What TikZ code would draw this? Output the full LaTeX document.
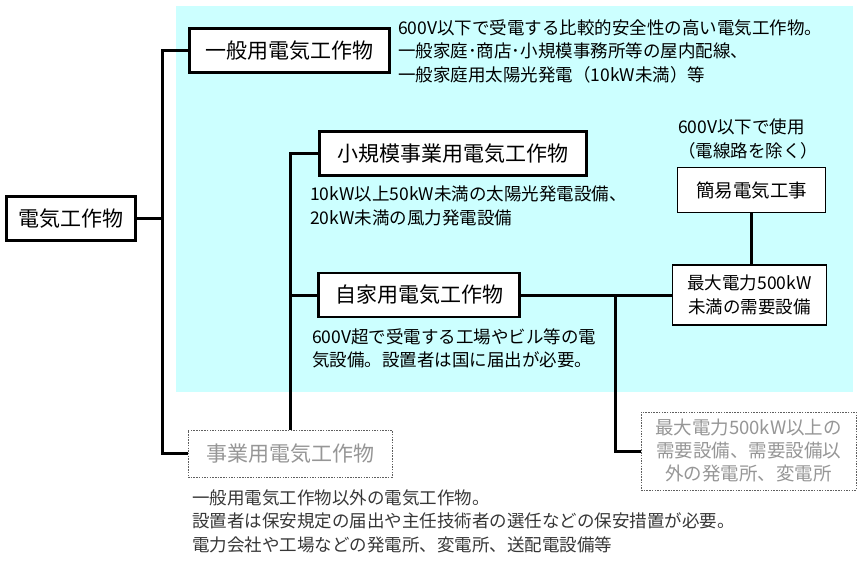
\documentclass[tikz,border=0pt]{standalone}
\usepackage{fontspec}
\setmainfont{Noto Sans CJK JP}
\definecolor{bgcyan}{RGB}{204,255,255}
\definecolor{graytxt}{RGB}{150,150,150}
\definecolor{dashgray}{RGB}{95,95,95}
\definecolor{desctxt}{RGB}{55,55,55}
\begin{document}
\begin{tikzpicture}[x=1pt,y=-1pt,
  mainbox/.style={draw=black, line width=2.8pt, fill=white, minimum height=44pt, inner sep=0pt, font=\fontsize{21}{25}\selectfont},
  thinbox/.style={draw=black, line width=1.3pt, fill=white, inner sep=0pt, align=center, font=\fontsize{17.5}{23.5}\selectfont},
  graybox/.style={draw=dashgray, line width=0.8pt, dash pattern=on 1.5pt off 1.2pt, fill=white, inner sep=0pt, text=graytxt, align=center},
  desc/.style={anchor=west, inner sep=0pt, align=left, font=\fontsize{17.5}{23.5}\selectfont},
  conn/.style={draw=black, line width=3pt}]
\useasboundingbox (0,0) rectangle (858,561);
\fill[bgcyan] (176,6) rectangle (853,392);
% boxes
\node[mainbox, minimum width=129pt] (root) at (71,218.5) {電気工作物};
\node[mainbox, minimum width=200pt] (ippan) at (289.5,50.5) {一般用電気工作物};
\node[mainbox, minimum width=267pt] (shoki) at (453,153.5) {小規模事業用電気工作物};
\node[mainbox, minimum width=201pt] (jika) at (419,295) {自家用電気工作物};
\node[graybox, minimum width=204pt, minimum height=47pt, font=\fontsize{21}{25}\selectfont] (jigyo) at (290,453.5) {事業用電気工作物};
\node[thinbox, minimum width=148pt, minimum height=45pt, font=\fontsize{18.5}{22}\selectfont] (kani) at (751.5,190) {簡易電気工事};
\node[thinbox, minimum width=154pt, minimum height=60pt] (saidai) at (749.5,295) {最大電力500kW\\未満の需要設備};
\node[graybox, minimum width=215pt, minimum height=78pt, font=\fontsize{18.5}{23}\selectfont] (ooki) at (748.5,451) {最大電力500kW以上の\\需要設備、需要設備以\\外の発電所、変電所};
% descriptions
\node[desc] (d1) at (398,51) {600V以下で受電する比較的安全性の高い電気工作物。\\一般家庭･商店･小規模事務所等の屋内配線、\\一般家庭用太陽光発電（10kW未満）等};
\node[desc] (d2) at (310,206) {10kW以上50kW未満の太陽光発電設備、\\20kW未満の風力発電設備};
\node[desc] (d3) at (312,348.5) {600V超で受電する工場やビル等の電\\気設備。設置者は国に届出が必要。};
\node[desc, text=desctxt] (d4) at (192,521) {一般用電気工作物以外の電気工作物。\\設置者は保安規定の届出や主任技術者の選任などの保安措置が必要。\\電力会社や工場などの発電所、変電所、送配電設備等};
\node[desc] (d5) at (678,139) {600V以下で使用\\（電線路を除く）};
% connectors
\coordinate (busA) at (162,0);
\coordinate (busC) at (615,0);
\draw[conn] (root.east) -- (root.east -| busA);
\draw[conn] (ippan.west) -- (ippan.west -| busA) -- (jigyo.west -| busA) -- (jigyo.west);
\draw[conn] (shoki.west) -- (shoki.west -| jigyo.north) -- (jigyo.north);
\draw[conn] (jika.west) -- (jika.west -| jigyo.north);
\draw[conn] (jika.east) -- (saidai.west);
\draw[conn] (jika.east -| busC) -- (ooki.west -| busC) -- (ooki.west);
\draw[conn] (kani.south) -- (kani.south |- saidai.north);
\end{tikzpicture}
\end{document}
